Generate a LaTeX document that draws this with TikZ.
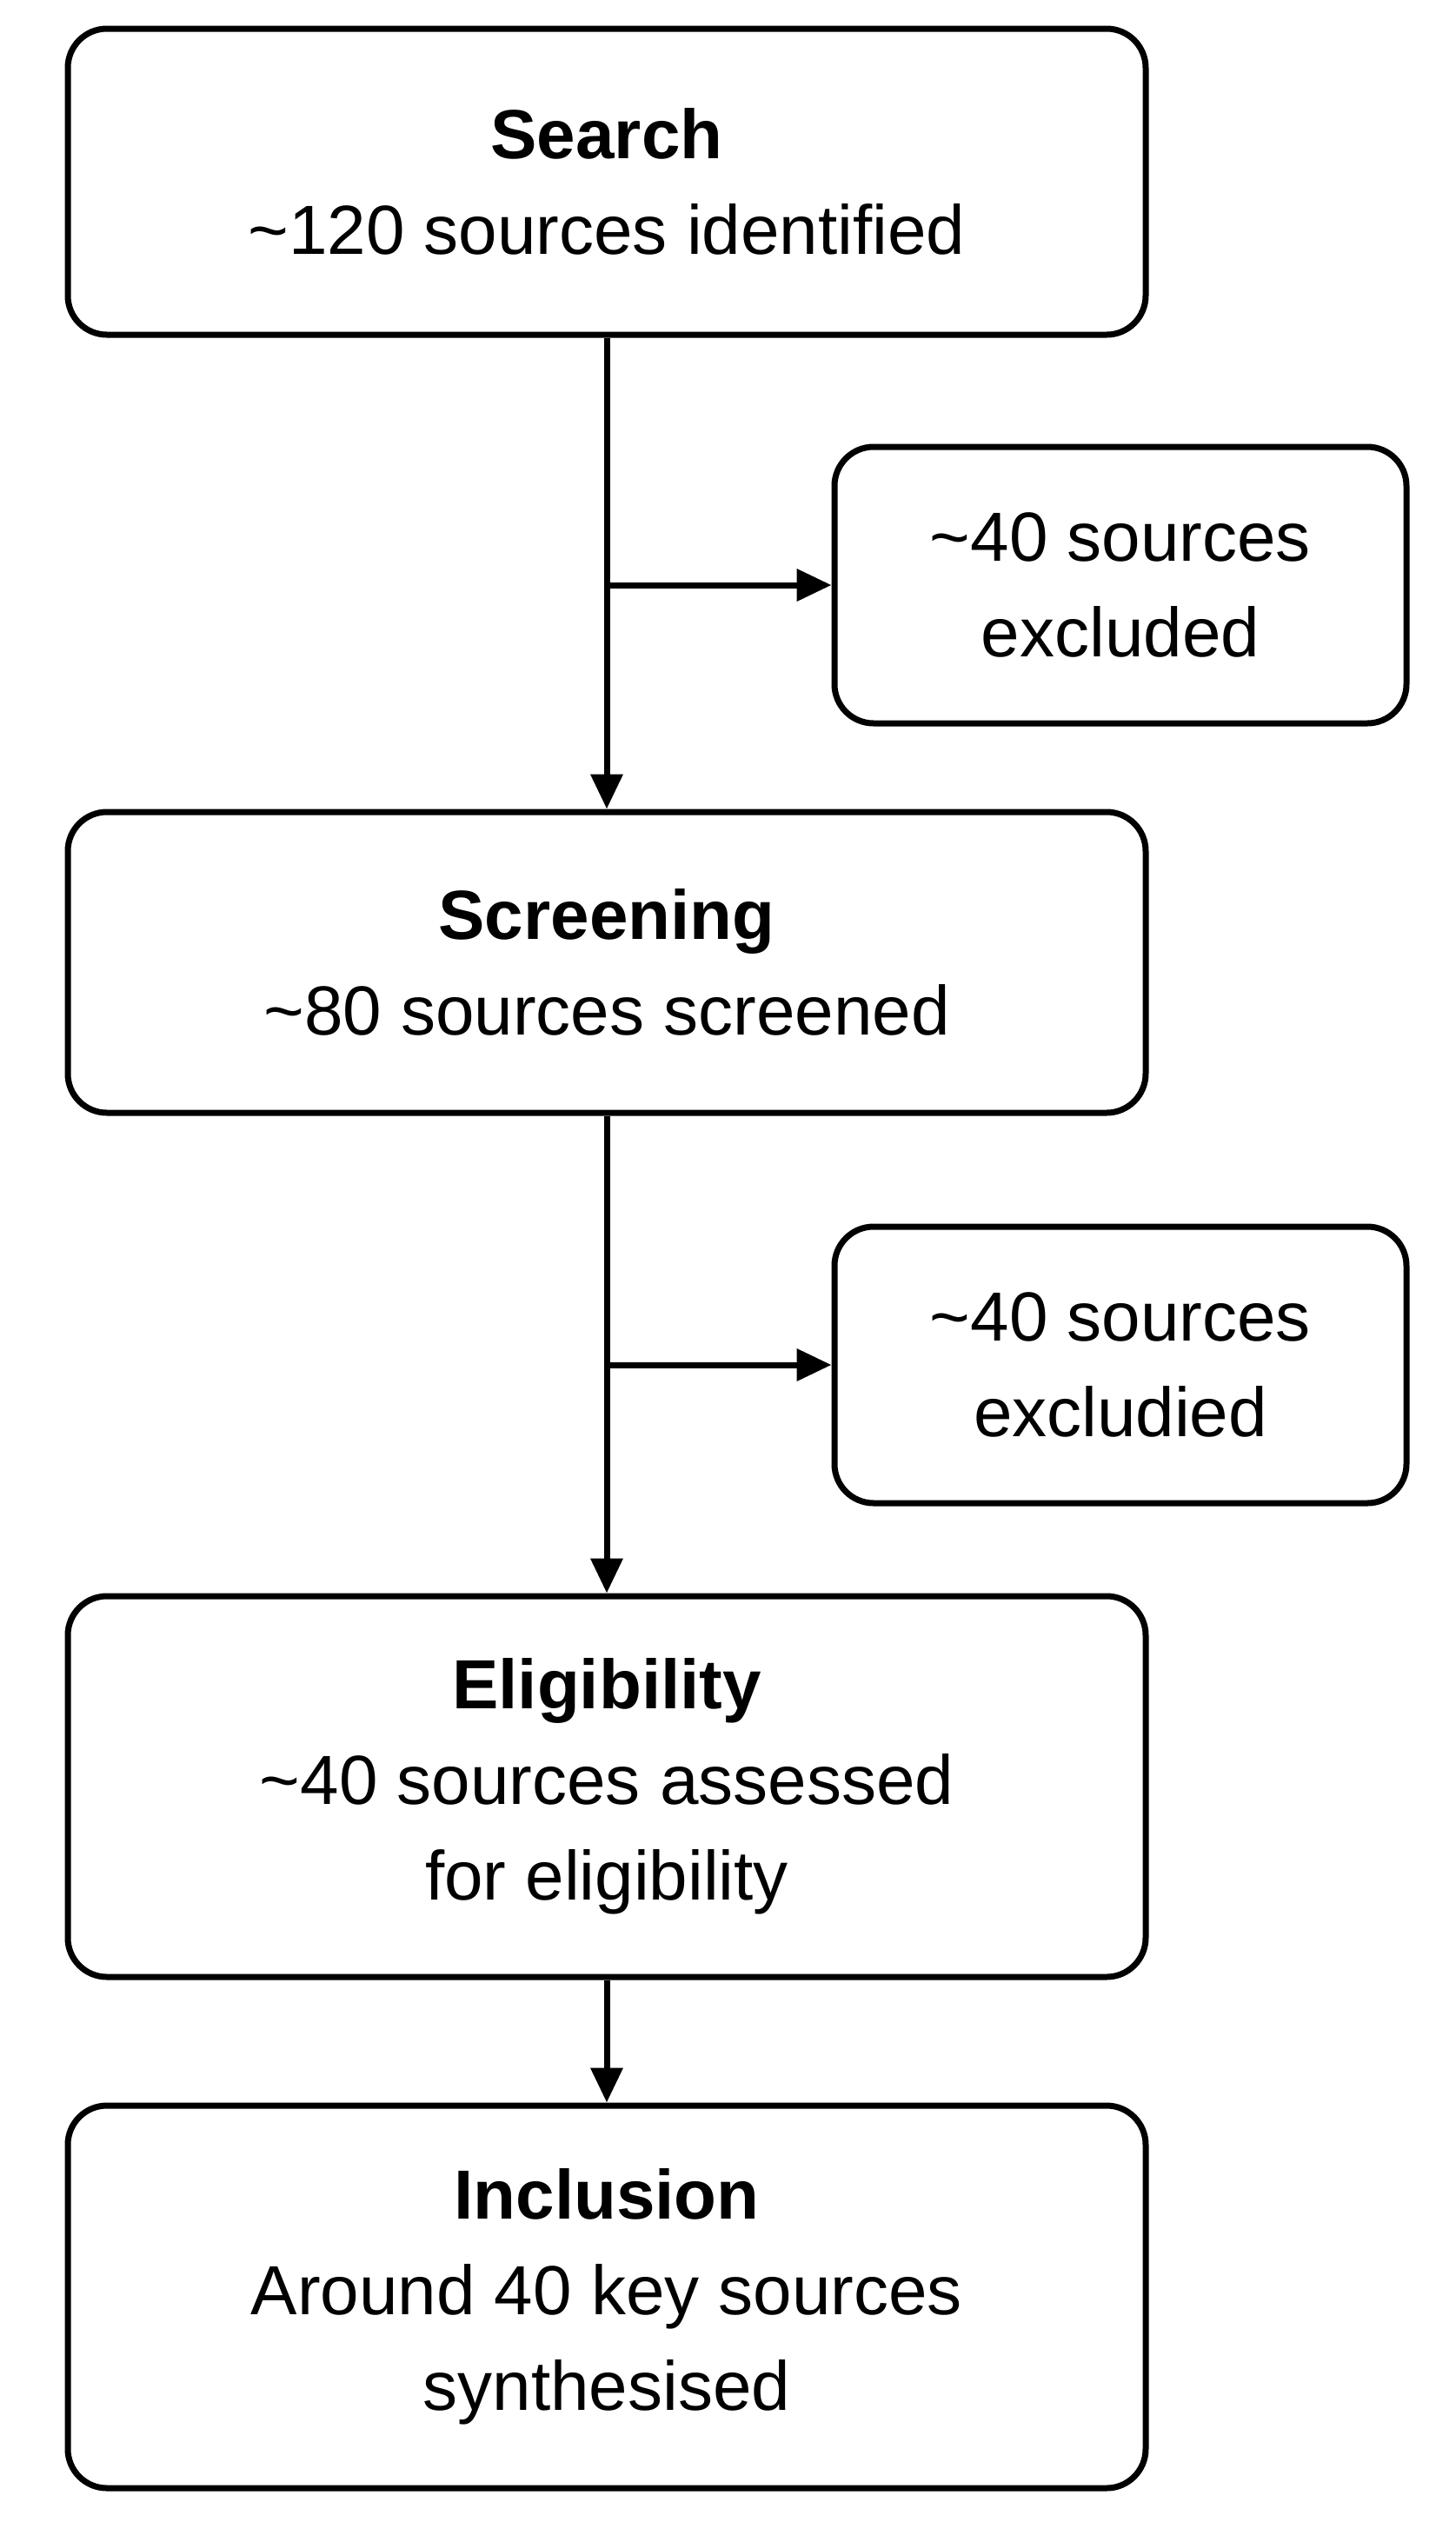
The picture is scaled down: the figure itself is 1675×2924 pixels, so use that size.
\documentclass[tikz,border=0pt]{standalone}
\usepackage{fontspec}
\setmainfont{Liberation Sans}
\usetikzlibrary{arrows.meta}
\begin{document}
\begin{tikzpicture}[x=1pt,y=-1pt,
  box/.style={draw=black,line width=7pt,rounded corners=45pt,align=center,inner sep=0pt,
    font=\fontsize{80}{110}\selectfont},
  arr/.style={line width=7pt,-{Triangle[length=40pt,width=36pt]}}]
\useasboundingbox (0,0) rectangle (1675,2924);
\node[box,minimum width=1240pt,minimum height=352pt] (search) at (698,209) {\textbf{Search}\\{\char`~}120 sources identified};
\node[box,minimum width=658pt,minimum height=318pt] (ex1) at (1289,673) {{\char`~}40 sources\\excluded};
\node[box,minimum width=1240pt,minimum height=346pt] (screen) at (698,1107) {\textbf{Screening}\\{\char`~}80 sources screened};
\node[box,minimum width=658pt,minimum height=318pt] (ex2) at (1289,1570) {{\char`~}40 sources\\excludied};
\node[box,minimum width=1240pt,minimum height=438pt] (elig) at (698,2055) {\textbf{Eligibility}\\{\char`~}40 sources assessed\\for eligibility};
\node[box,minimum width=1240pt,minimum height=440pt] (incl) at (698,2642) {\textbf{Inclusion}\\Around 40 key sources\\synthesised};
\coordinate (b1) at (698,673);
\coordinate (b2) at (698,1570);
\draw[arr] (search) -- (screen);
\draw[arr] (b1) -- (ex1.west);
\draw[arr] (screen) -- (elig);
\draw[arr] (b2) -- (ex2.west);
\draw[arr] (elig) -- (incl);
\end{tikzpicture}
\end{document}
